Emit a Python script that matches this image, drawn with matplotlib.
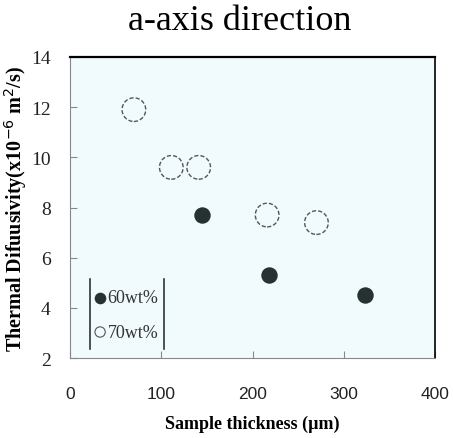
import matplotlib
matplotlib.use("Agg")
import matplotlib.pyplot as plt

# 60wt% (filled) and 70wt% (open) samples
thick_60 = [145, 218, 323]
diff_60 = [7.7, 5.3, 4.5]
thick_70 = [70, 111, 141, 216, 270]
diff_70 = [11.9, 9.6, 9.6, 7.7, 7.4]

xticks = [0, 100, 200, 300, 400]
yticks = [2, 4, 6, 8, 10, 12, 14]

SERIF = "Liberation Serif"
SANS = "Liberation Sans"

fig = plt.figure(figsize=(4.53, 4.39), dpi=100)
ax = fig.add_axes([0.1545, 0.182, 0.806, 0.686])
ax.set_facecolor("#f1fbfd")

ax.scatter(thick_70, diff_70, s=290, facecolor="none", edgecolor="#555555",
           linewidth=1.0, linestyle=(0, (3, 1.5)), zorder=3)
ax.scatter(thick_60, diff_60, s=140, color="#263232", linewidth=0, zorder=3)

ax.set_xlim(0, 400)
ax.set_ylim(2, 14)
ax.set_xticks(xticks)
ax.set_yticks(yticks)
ax.tick_params(direction="in", length=5, color="#888888")
ax.tick_params(axis="x", pad=20)
ax.tick_params(axis="y", pad=14)
ax.set_xticklabels([str(v) for v in xticks], family=SANS, fontsize=12.5, color="#222222")
ax.set_yticklabels([str(v) for v in yticks], family=SERIF, fontsize=14, color="#222222")

for side in ["left", "bottom"]:
    ax.spines[side].set_color("#888888")
ax.spines["top"].set_linewidth(1.6)
ax.spines["right"].set_linewidth(1.2)

ax.set_xlabel("Sample thickness (\u00b5m)", family=SERIF, fontweight="bold",
              fontsize=13, labelpad=10)
ax.set_ylabel("Thermal Difuusivity(x10$^{-6}$ m$^2$/s)", family=SERIF,
              fontweight="bold", fontsize=14.5)
ax.yaxis.set_label_coords(-0.112, 0.5)

fig.text(0.53, 0.952, "a-axis direction", family=SERIF, fontsize=26,
         ha="center", va="center")

# hand-made legend: two vertical bars with markers and labels
ax.plot([22, 22], [5.15, 2.35], color="#333333", lw=1.2)
ax.plot([103, 103], [5.15, 2.35], color="#333333", lw=1.2)
ax.scatter([33], [4.4], s=70, color="#263232", linewidth=0, zorder=4)
ax.scatter([33], [3.04], s=55, facecolor="none", edgecolor="#555555", lw=0.8, zorder=4)
ax.text(41, 4.4, "60wt%", family=SERIF, fontsize=13, va="center", color="#333333")
ax.text(41, 3.04, "70wt%", family=SERIF, fontsize=13, va="center", color="#333333")

fig.savefig("out.png", dpi=100)
